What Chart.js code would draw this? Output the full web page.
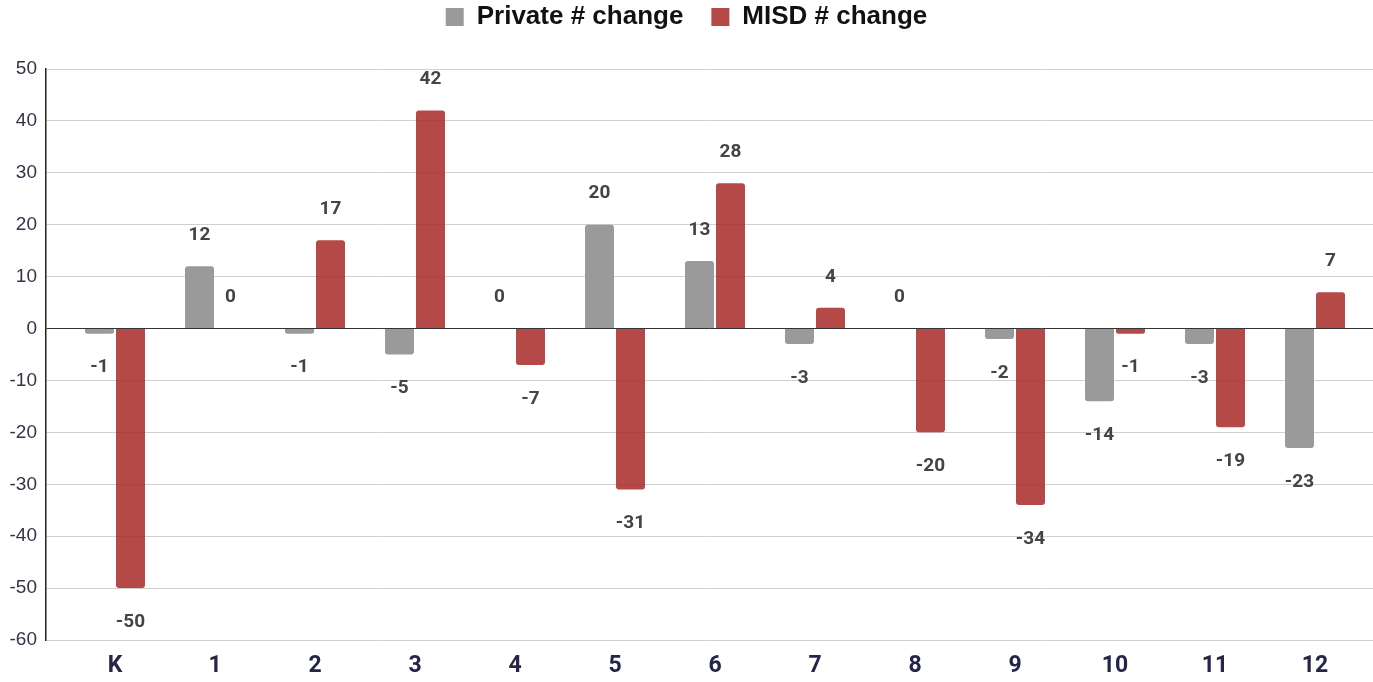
<!DOCTYPE html>
<html>
<head>
<meta charset="utf-8">
<script src="https://cdn.jsdelivr.net/npm/chart.js@4.4.1/dist/chart.umd.min.js"></script>
<style>
  html, body { margin: 0; padding: 0; background: #fff; }
  #wrap { width: 1373px; height: 682px; }
</style>
</head>
<body>
<div id="wrap"><canvas id="chart" width="1373" height="682"></canvas></div>
<script>
// grade levels and year-over-year enrolment change
const GRADES = ['K', '1', '2', '3', '4', '5', '6', '7', '8', '9', '10', '11', '12'];
const PRIVATE_CHANGE = [-1, 12, -1, -5, 0, 20, 13, -3, 0, -2, -14, -3, -23];
const MISD_CHANGE = [-50, 0, 17, 42, -7, -31, 28, 4, -20, -34, -1, -19, 7];
const Y_MIN = -60, Y_MAX = 50, Y_STEP = 10;

const toPoints = (vals) => vals.map((v, i) => ({ x: i, y: v }));

// value labels above / below each bar
const valueLabels = {
  id: 'valueLabels',
  afterDatasetsDraw(chart) {
    const ctx = chart.ctx;
    ctx.save();
    ctx.font = 'bold 19px Roboto, "Liberation Sans", sans-serif';
    ctx.fillStyle = '#444444';
    ctx.textAlign = 'center';
    ctx.textBaseline = 'middle';
    chart.data.datasets.forEach((ds, di) => {
      chart.getDatasetMeta(di).data.forEach((bar, i) => {
        const v = ds.data[i].y;
        const y = v >= 0 ? bar.y - 31 : bar.y + 34;
        ctx.fillText(String(v), bar.x, y);
      });
    });
    ctx.restore();
  }
};

// give the legend a fixed band above the plot
const legendBand = {
  id: 'legendBand',
  afterInit(chart) {
    const lg = chart.legend;
    if (!lg) return;
    const fit = lg.fit;
    lg.fit = function () { fit.call(this); this.height = 93; };
  }
};

new Chart(document.getElementById('chart'), {
  type: 'bar',
  data: {
    datasets: [
      {
        label: 'Private # change', data: toPoints(PRIVATE_CHANGE),
        backgroundColor: '#9a9a9a', borderRadius: 3, borderSkipped: 'start'
      },
      {
        label: 'MISD # change', data: toPoints(MISD_CHANGE),
        backgroundColor: 'rgba(167,41,40,0.85)', borderRadius: 3, borderSkipped: 'start'
      }
    ]
  },
  options: {
    responsive: false,
    animation: false,
    categoryPercentage: 0.62,
    barPercentage: 0.935,
    layout: { padding: { top: -24, left: 0, right: 0, bottom: 0 } },
    plugins: {
      legend: {
        position: 'top',
        labels: {
          boxWidth: 18, boxHeight: 18, padding: 28, color: '#111',
          font: { family: '"Liberation Sans", Arial, sans-serif', size: 26, weight: 'bold' }
        }
      },
      tooltip: { enabled: false }
    },
    scales: {
      x: {
        type: 'linear',
        offset: false,
        min: -0.69, max: 12.58,
        grid: { display: false, drawTicks: false },
        border: { display: false },
        ticks: {
          stepSize: 1, includeBounds: false, autoSkip: false, maxRotation: 0,
          padding: 12, color: '#25254a',
          font: { family: 'Roboto, "Liberation Sans", sans-serif', size: 23, weight: 'bold' },
          callback: (v) => (GRADES[v] !== undefined ? GRADES[v] : '')
        },
        afterFit: (s) => { s.height = 42; }
      },
      y: {
        min: Y_MIN, max: Y_MAX,
        grid: {
          drawTicks: false,
          color: (c) => (c.tick && c.tick.value === 0 ? '#333333' : '#d0d0d0'),
          lineWidth: 1
        },
        border: { display: true, color: '#222', width: 1.5 },
        ticks: {
          stepSize: Y_STEP, padding: 9, color: '#33334a',
          font: { family: '"Liberation Sans", Arial, sans-serif', size: 19 }
        },
        afterFit: (s) => { s.width = 46; }
      }
    }
  },
  plugins: [valueLabels, legendBand]
});
</script>
</body>
</html>
